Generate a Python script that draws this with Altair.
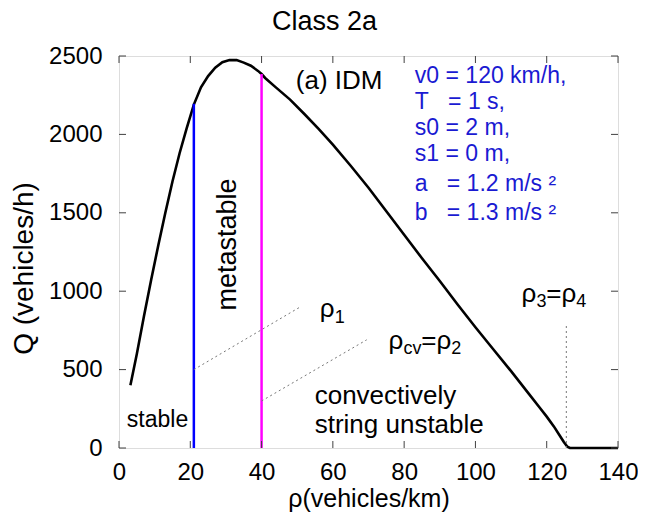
import altair as alt
import pandas as pd

FONT = "Liberation Sans"
NB = "\u00a0"

# ---- fundamental diagram ----
rho = [3.2, 5, 7, 9, 11, 13, 15, 17, 19, 21, 23, 25, 27, 29, 31, 33, 35, 37, 39, 40, 41,
       44, 48, 52, 56, 60, 65, 70, 75, 80, 85, 90, 95, 100, 105, 110, 115, 118, 120,
       122, 123.5, 124.8, 125.8, 126.5, 130, 140]
flow = [400, 600, 840, 1070, 1290, 1500, 1700, 1880, 2040, 2190, 2300, 2372, 2425, 2460,
        2474, 2474, 2458, 2438, 2405, 2385, 2360, 2300, 2222, 2130, 2035, 1935, 1800,
        1660, 1510, 1360, 1210, 1065, 915, 770, 630, 490, 345, 258, 200, 138, 85, 38, 8,
        0, 0, 0]

x_ticks = [0, 20, 40, 60, 80, 100, 120, 140]
y_ticks = [0, 500, 1000, 1500, 2000, 2500]

# stability boundaries
bound_rho = [21, 40]
bound_top = [2195, 2385]
bound_color = ["#0000ff", "#ff00ff"]

# dotted leader lines
lead_x = [21, 40]
lead_y = [500, 300]
lead_x2 = [50.5, 69.5]
lead_y2 = [895, 690]
rho34 = [125.5]
rho34_top = [780]

# parameter box
params = ["v0 = 120 km/h,", "T" + NB * 3 + "= 1 s,", "s0 = 2 m,", "s1 = 0 m,",
          "a" + NB * 3 + "= 1.2 m/s \u00b2", "b" + NB * 3 + "= 1.3 m/s \u00b2"]
params_q = [2370, 2207, 2041, 1875, 1684, 1499]
params_rho = 83.0

# annotation texts (main size)
ann_text = ["(a) IDM", "convectively", "string unstable", "\u03c1", "\u03c1", "=\u03c1",
            "\u03c1", "=\u03c1"]
ann_rho = [49.6, 54.9, 54.9, 56.3, 75.6, 84.8, 112.9, 119.9]
ann_q = [2290, 281, 96, 835, 631, 631, 931, 931]

# subscripts
sub_text = ["1", "cv", "2", "3", "4"]
sub_rho = [60.5, 79.8, 93.2, 117.1, 128.3]
sub_q = [797, 600, 600, 899, 899]

W, H = 499, 392
xs = alt.Scale(domain=[0, 140], nice=False, zero=False)
ys = alt.Scale(domain=[0, 2500], nice=False, zero=False)

curve_df = pd.DataFrame({"rho": rho, "Q": flow})
curve = alt.Chart(curve_df).mark_line(color="black", strokeWidth=2.6).encode(
    x=alt.X("rho:Q", scale=xs, axis=alt.Axis(
        values=x_ticks, format="d", ticks=False, domain=False, grid=False, labelFontSize=24,
        labelFont=FONT, labelPadding=12, labelColor="black", labelFlush=False,
        title="\u03c1(vehicles/km)", titleFont=FONT, titleFontSize=25,
        titleFontWeight="normal", titleColor="black", titlePadding=2)),
    y=alt.Y("Q:Q", scale=ys, axis=alt.Axis(
        values=y_ticks, format="d", ticks=False, domain=False, grid=False, labelFontSize=24,
        labelFont=FONT, labelPadding=17, labelColor="black",
        title="Q (vehicles/h)", titleFont=FONT, titleFontSize=28,
        titleFontWeight="normal", titleColor="black", titlePadding=10,
        titleY=212)),
)

bound_df = pd.DataFrame({"rho": bound_rho, "top": bound_top, "c": bound_color})
bounds = alt.Chart(bound_df).mark_rule(strokeWidth=2.5).encode(
    x=alt.X("rho:Q", scale=xs),
    y=alt.Y("zero:Q", scale=ys),
    y2="top:Q",
    color=alt.Color("c:N", scale=None),
).transform_calculate(zero="0")

lead_df = pd.DataFrame({"rho": lead_x, "Q": lead_y, "rho2": lead_x2, "Q2": lead_y2})
leads = alt.Chart(lead_df).mark_rule(color="#777777", strokeWidth=1, strokeDash=[2, 3]).encode(
    x=alt.X("rho:Q", scale=xs), y=alt.Y("Q:Q", scale=ys), x2="rho2:Q", y2="Q2:Q")

v34_df = pd.DataFrame({"rho": rho34, "top": rho34_top})
v34 = alt.Chart(v34_df).mark_rule(color="#777777", strokeWidth=1, strokeDash=[2, 3]).encode(
    x=alt.X("rho:Q", scale=xs), y=alt.Y("zero:Q", scale=ys), y2="top:Q"
).transform_calculate(zero="0")

# inward ticks on all four sides
xt_df = pd.DataFrame({"rho": x_ticks})
yt_df = pd.DataFrame({"Q": y_ticks})
TL = 7
tcol = "#404040"
xt_bot = alt.Chart(xt_df).mark_rule(color=tcol, strokeWidth=1).encode(
    x=alt.X("rho:Q", scale=xs), y=alt.value(H), y2=alt.value(H - TL))
xt_top = alt.Chart(xt_df).mark_rule(color=tcol, strokeWidth=1).encode(
    x=alt.X("rho:Q", scale=xs), y=alt.value(0), y2=alt.value(TL))
yt_l = alt.Chart(yt_df).mark_rule(color=tcol, strokeWidth=1).encode(
    y=alt.Y("Q:Q", scale=ys), x=alt.value(0), x2=alt.value(TL))
yt_r = alt.Chart(yt_df).mark_rule(color=tcol, strokeWidth=1).encode(
    y=alt.Y("Q:Q", scale=ys), x=alt.value(W), x2=alt.value(W - TL))

ann_df = pd.DataFrame({"rho": ann_rho, "Q": ann_q, "t": ann_text})
ann = alt.Chart(ann_df).mark_text(font=FONT, fontSize=26, align="left",
                                  baseline="alphabetic", color="black").encode(
    x=alt.X("rho:Q", scale=xs), y=alt.Y("Q:Q", scale=ys), text="t:N")

sub_df = pd.DataFrame({"rho": sub_rho, "Q": sub_q, "t": sub_text})
sub = alt.Chart(sub_df).mark_text(font=FONT, fontSize=18, align="left",
                                  baseline="alphabetic", color="black").encode(
    x=alt.X("rho:Q", scale=xs), y=alt.Y("Q:Q", scale=ys), text="t:N")

meta_df = pd.DataFrame({"rho": [30.5], "Q": [1298], "t": ["metastable"]})
meta = alt.Chart(meta_df).mark_text(font=FONT, fontSize=27, align="center",
                                    baseline="middle", angle=270, color="black").encode(
    x=alt.X("rho:Q", scale=xs), y=alt.Y("Q:Q", scale=ys), text="t:N")

stab_df = pd.DataFrame({"rho": [2.2], "Q": [134], "t": ["stable"]})
stab = alt.Chart(stab_df).mark_text(font=FONT, fontSize=23, align="left",
                                    baseline="alphabetic", color="black").encode(
    x=alt.X("rho:Q", scale=xs), y=alt.Y("Q:Q", scale=ys), text="t:N")

par_df = pd.DataFrame({"rho": [params_rho] * len(params), "Q": params_q, "t": params})
par = alt.Chart(par_df).mark_text(font=FONT, fontSize=23, align="left",
                                  baseline="middle", color="#1a1ad2").encode(
    x=alt.X("rho:Q", scale=xs), y=alt.Y("Q:Q", scale=ys), text="t:N")

chart = alt.layer(
    curve, bounds, leads, v34, xt_bot, xt_top, yt_l, yt_r, ann, sub, meta, stab, par
).properties(
    width=W, height=H,
    title=alt.TitleParams("Class 2a", font=FONT, fontSize=27, fontWeight="normal",
                          color="black", anchor="middle", dx=-44, offset=8),
    autosize=alt.AutoSizeParams(type="none"),
    padding={"left": 111, "top": 48, "right": 20, "bottom": 68},
).configure_view(stroke="#404040", strokeWidth=1.5).configure(background="white")

chart.save("out.html", embed_options={"renderer": "svg", "actions": False})
